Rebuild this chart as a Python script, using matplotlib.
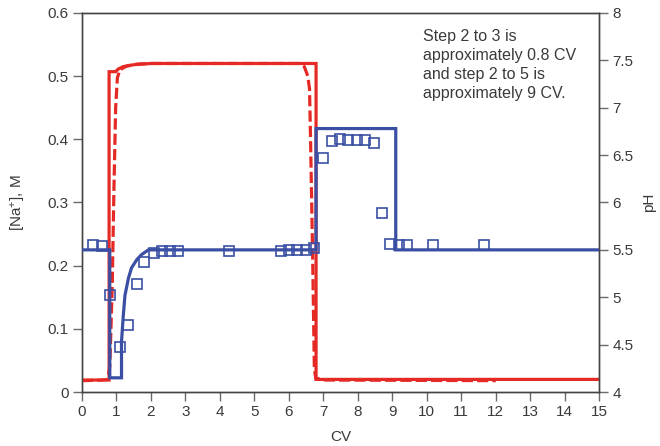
import matplotlib
matplotlib.use("Agg")
import matplotlib.pyplot as plt

plt.rcParams['font.family'] = ['Liberation Sans', 'DejaVu Sans']
plt.rcParams['mathtext.fontset'] = 'custom'
plt.rcParams['mathtext.rm'] = 'Liberation Sans'
plt.rcParams['mathtext.it'] = 'Liberation Sans:italic'

# Na+ concentration (left axis), solid step line
na_step_cv = [0, 0.79, 0.79, 0.98, 1.05, 1.2, 1.5, 2.0, 6.79, 6.79, 15]
na_step_m = [0.019, 0.019, 0.507, 0.507, 0.511, 0.515, 0.518, 0.52, 0.52, 0.02, 0.02]

# Na+ measured (dashed)
na_meas_cv = [0.0, 0.6, 0.75, 0.81, 0.88, 0.93, 0.98, 1.03, 1.1, 1.3, 1.6, 2.0,
              6.3, 6.45, 6.55, 6.6, 6.63, 6.69, 6.74, 6.78, 7.0, 12.0]
na_meas_m = [0.018, 0.019, 0.02, 0.04, 0.165, 0.32, 0.45, 0.497, 0.51, 0.516, 0.519, 0.52,
             0.52, 0.515, 0.50, 0.48, 0.40, 0.217, 0.038, 0.022, 0.019, 0.018]

# pH (right axis), solid line
ph_line_cv = [0, 0.81, 0.81, 1.15, 1.15, 1.2, 1.25, 1.35, 1.44, 1.6, 1.73, 1.93,
              6.79, 6.79, 9.1, 9.1, 15]
ph_line = [5.5, 5.5, 4.15, 4.15, 4.53, 4.8, 5.02, 5.2, 5.31, 5.4, 5.45, 5.5,
           5.5, 6.78, 6.78, 5.5, 5.5]

# pH measured points (squares)
ph_pts_cv = [0.33, 0.59, 0.83, 1.10, 1.33, 1.60, 1.81, 2.08, 2.32, 2.56, 2.80, 4.27,
             5.76, 6.0, 6.25, 6.49, 6.73, 6.98, 7.24, 7.48, 7.73, 7.97, 8.21, 8.48,
             8.70, 8.94, 9.18, 9.43, 10.18, 11.66]
ph_pts = [5.55, 5.54, 5.02, 4.48, 4.71, 5.14, 5.37, 5.47, 5.49, 5.49, 5.49, 5.49,
          5.49, 5.50, 5.50, 5.50, 5.52, 6.47, 6.65, 6.67, 6.66, 6.66, 6.66, 6.63,
          5.89, 5.56, 5.55, 5.55, 5.55, 5.55]

x_ticks = list(range(0, 16))
na_ticks = [0, 0.1, 0.2, 0.3, 0.4, 0.5, 0.6]
na_tick_labels = ['0', '0.1', '0.2', '0.3', '0.4', '0.5', '0.6']
ph_ticks = [4, 4.5, 5, 5.5, 6, 6.5, 7, 7.5, 8]
ph_tick_labels = ['4', '4.5', '5', '5.5', '6', '6.5', '7', '7.5', '8']

annotation = "Step 2 to 3 is\napproximately 0.8 CV\nand step 2 to 5 is\napproximately 9 CV."

RED = '#e52a25'
BLUE = '#3a4fa3'
TXT = '#3a3a3a'
TICK = '#6a6a6a'

fig = plt.figure(figsize=(6.6, 4.46), dpi=100)
ax = fig.add_axes([0.124, 0.121, 0.784, 0.850])

ax.plot(na_step_cv, na_step_m, color=RED, lw=2.3, solid_joinstyle='miter', zorder=3)
ax.plot(na_meas_cv, na_meas_m, color=RED, lw=2.3, dashes=(3.5, 1.3), zorder=3)

ax.set_xlim(0, 15)
ax.set_ylim(0, 0.6)
ax.set_xticks(x_ticks)
ax.set_xticklabels([str(t) for t in x_ticks])
ax.set_yticks(na_ticks)
ax.set_yticklabels(na_tick_labels)
ax.set_xlabel('CV', fontsize=11, color=TXT, labelpad=8)
ax.set_ylabel(r'[Na$^{+}$], M', fontsize=11, color=TXT, labelpad=14)

ax2 = ax.twinx()
ax2.plot(ph_line_cv, ph_line, color=BLUE, lw=2.3, solid_joinstyle='miter', zorder=3)
ax2.plot(ph_pts_cv, ph_pts, linestyle='none', marker='s', markersize=7.2,
         markerfacecolor='none', markeredgecolor=BLUE, markeredgewidth=1.2, zorder=4)
ax2.set_ylim(4, 8)
ax2.set_yticks(ph_ticks)
ax2.set_yticklabels(ph_tick_labels)
ax2.set_ylabel('pH', fontsize=11, color=TXT, labelpad=6)

for a in (ax, ax2):
    for s in a.spines.values():
        s.set_color('#444444')
        s.set_linewidth(1.0)
    a.tick_params(direction='out', length=6.5, width=1.0, color=TICK,
                  labelsize=11, labelcolor=TXT, pad=3)

ax.text(0.66, 0.957, annotation, transform=ax.transAxes, ha='left', va='top',
        fontsize=11.5, color=TXT, linespacing=1.33)

fig.savefig('out.png', dpi=100)
